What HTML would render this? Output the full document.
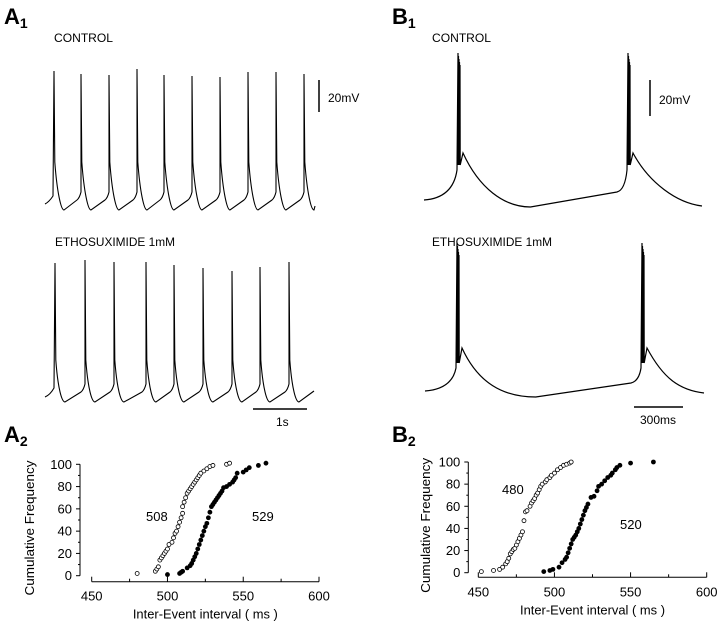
<!DOCTYPE html>
<html><head><meta charset="utf-8"><style>
html,body{margin:0;padding:0;background:#fff;}
svg{display:block;font-family:"Liberation Sans",sans-serif;}
</style></head><body>
<svg id="fig" width="720" height="624" viewBox="0 0 720 624">
<g font-weight="bold" font-size="22">
<text x="4" y="24">A<tspan font-size="14" dy="4">1</tspan></text>
<text x="392" y="24">B<tspan font-size="14" dy="4">1</tspan></text>
<text x="4" y="442">A<tspan font-size="14" dy="4">2</tspan></text>
<text x="392" y="442">B<tspan font-size="14" dy="4">2</tspan></text>
</g>
<g font-size="12">
<text x="54" y="42" textLength="59" lengthAdjust="spacingAndGlyphs">CONTROL</text>
<text x="432" y="42" textLength="59" lengthAdjust="spacingAndGlyphs">CONTROL</text>
<text x="55" y="246" textLength="120" lengthAdjust="spacingAndGlyphs">ETHOSUXIMIDE 1mM</text>
<text x="432" y="246" textLength="120" lengthAdjust="spacingAndGlyphs">ETHOSUXIMIDE 1mM</text>
</g>
<g stroke="#000" stroke-width="1.5">
<line x1="319" y1="80" x2="319" y2="112"/>
<line x1="650" y1="80" x2="650" y2="116"/>
<line x1="253" y1="409" x2="307" y2="409"/>
<line x1="634" y1="407" x2="683" y2="407"/>
</g>
<g font-size="12">
<text x="328" y="102">20mV</text>
<text x="659" y="104">20mV</text>
<text x="276" y="426">1s</text>
<text x="640" y="424">300ms</text>
</g>
<g id="traces"></g>
<g id="plots"></g>
</svg>
<script>
// ---- trace data (spike times in px, peak y) ----
const aCtrlSpikes=[54,81,109,137,164,192,220,248,276,304];
const aCtrlPeaks=[71,74,75,69,75,76,77,72,72,74];
const aEthoSpikes=[55,85,114,146,174,203,232,260,289];
const aEthoPeaks=[263,260,262,262,265,268,271,267,262];
const bCtrlBursts=[459,629];
const bEthoBursts=[458,643];
// ---- cumulative data ----
const a2OpenX=[480,492,493,494,495,496,497,498,499,500,501,503,504,505,506,507,508,509,510,510,511,512,513,514,515,516,517,518,519,520,521,522,524,526,528,530,539,541];
const a2OpenY=[2,4,6,8,14,16,18,20,22,24,28,30,34,38,40,44,48,52,56,62,66,70,74,76,78,80,82,84,86,88,90,92,94,96,98,99,100,101];
const a2FillX=[500,508,509,510,513,515,516,517,518,519,520,521,522,523,524,525,526,527,528,529,530,531,532,533,534,535,536,537,539,541,543,544,545,546,550,552,554,560,565];
const a2FillY=[1,2,3,4,7,9,11,14,17,20,24,28,32,36,40,44,47,52,57,62,64,66,68,70,72,74,76,79,80,82,84,86,88,92,93,95,97,99,101];
const b2OpenX=[452,460,464,466,468,469,470,471,472,473,474,475,476,477,478,479,480,481,482,484,485,486,487,488,489,490,491,492,494,495,497,498,500,502,504,506,508,510,511];
const b2OpenY=[1,2,3,5,8,10,13,17,19,21,22,25,28,31,34,37,47,55,56,60,63,65,67,70,72,75,78,80,82,84,86,88,90,93,95,97,98,99,100];
const b2FillX=[493,497,499,503,505,507,508,509,510,511,512,513,514,515,516,517,518,519,520,521,522,524,526,528,529,531,533,535,537,538,540,541,543,550,565];
const b2FillY=[1,2,3,5,9,12,14,18,22,26,30,32,34,37,40,44,48,52,56,59,62,68,69,74,78,80,83,86,88,90,93,95,97,99,100];
const xTicks=[450,500,550,600];
const yTicks=[0,20,40,60,80,100];

const NS="http://www.w3.org/2000/svg";
function mk(tag,attrs,parent){const e=document.createElementNS(NS,tag);for(const k in attrs)e.setAttribute(k,attrs[k]);parent.appendChild(e);return e;}
const traces=document.getElementById('traces');
const plots=document.getElementById('plots');

function spikeTrace(spikes,peaks,x0,x1,trough,pre,shoulder,startY,endY,name){
  let d=`M${x0},${startY}`;
  let prevEnd=x0;
  spikes.forEach((t,i)=>{
    if(i===0){d+=` Q${t-5},${startY-2} ${t-1},${pre}`;}
    else{d+=` L${t-4},${pre+4} Q${t-1.5},${pre+2} ${t},${pre-4}`;}
    d+=` L${t},${peaks[i]} L${t+0.8},${shoulder}`;
    const last=i===spikes.length-1;
    const te=Math.min(t+10,x1);
    if(last && t+10>x1){
      d+=` C${t+3},${shoulder+30} ${x1-3},${endY} ${x1},${endY}`;
      prevEnd=x1;
    } else {
      d+=` C${t+3},${shoulder+30} ${t+7},${trough} ${te},${trough}`;
      prevEnd=te;
    }
  });
  if(prevEnd<x1) d+=` L${x1},${endY}`;
  const p=mk('path',{d:d,fill:'none',stroke:'#000','stroke-width':1.1},traces);
  
  
}
spikeTrace(aCtrlSpikes,aCtrlPeaks,45,315,210,196,162,204,206,'a-control-trace');
spikeTrace(aEthoSpikes,aEthoPeaks,45,314,402,388,360,397,391,'a-etho-trace');

function burstTrace(bursts,peak,base,ahp,trough,startY,preY,endY,x0,x1,name){
  const [b1,b2]=bursts;
  const mid=b1+(b2-b1)*0.42;
  let d=`M${x0},${startY} Q${b1-6},${startY-2} ${b1-2},${base}`;
  for(let k=0;k<5;k++){d+=` L${b1-1+k*0.5},${peak+k*3} L${b1-0.8+k*0.5},${base-5}`;}
  d+=` L${b1+4},${ahp} C${b1+20},${ahp+35} ${b1+45},${trough} ${mid},${trough}`;
  d+=` L${b2-12},${preY} Q${b2-4},${preY-2} ${b2-2},${base}`;
  for(let k=0;k<5;k++){d+=` L${b2-1+k*0.5},${peak+k*3} L${b2-0.8+k*0.5},${base-5}`;}
  d+=` L${b2+4},${ahp} C${b2+20},${ahp+30} ${x1-25},${endY-3} ${x1},${endY}`;
  const p=mk('path',{d:d,fill:'none',stroke:'#000','stroke-width':1.2},traces);
  
  
}
burstTrace(bCtrlBursts,53,170,153,207,200,192,206,424,702,'b-control-trace');
burstTrace(bEthoBursts,243,368,348,397,391,383,393,425,704,'b-etho-trace');

function plot(cfg){
  const g=mk('g',{},plots);
  
  
  const sx=v=>cfg.x450+(v-450)*(cfg.x600-cfg.x450)/150;
  const sy=v=>cfg.y0+(v)*(cfg.y100-cfg.y0)/100;
  const ax=mk('line',{x1:cfg.yAxisX,y1:sy(100),x2:cfg.yAxisX,y2:sy(0),stroke:'#000','stroke-width':1},g);
  
  const bx=mk('line',{x1:sx(450),y1:cfg.xAxisY,x2:sx(600),y2:cfg.xAxisY,stroke:'#000','stroke-width':1},g);
  
  yTicks.forEach(v=>{
    const t=mk('line',{x1:cfg.yAxisX-4,y1:sy(v),x2:cfg.yAxisX,y2:sy(v),stroke:'#000'},g);
    
    if(v<100){const m=mk('line',{x1:cfg.yAxisX-2,y1:sy(v+10),x2:cfg.yAxisX,y2:sy(v+10),stroke:'#000'},g);
      }
    const l=mk('text',{x:cfg.yAxisX-8,y:sy(v)+4.5,'text-anchor':'end','font-size':13},g);
    l.textContent=v;
  });
  xTicks.forEach((v,i)=>{
    const t=mk('line',{x1:sx(v),y1:cfg.xAxisY-5,x2:sx(v),y2:cfg.xAxisY,stroke:'#000'},g);
    
    if(i<3){const m=mk('line',{x1:sx(v+25),y1:cfg.xAxisY-3,x2:sx(v+25),y2:cfg.xAxisY,stroke:'#000'},g);
      }
    const l=mk('text',{x:sx(v),y:cfg.xAxisY+19,'text-anchor':'middle','font-size':13},g);
    l.textContent=v;
  });
  const xt=mk('text',{x:(sx(450)+sx(600))/2,y:cfg.xAxisY+37,'text-anchor':'middle','font-size':13,textLength:145,lengthAdjust:'spacingAndGlyphs'},g);
  xt.textContent='Inter-Event interval ( ms )';
  const yt=mk('text',{x:0,y:0,'text-anchor':'middle','font-size':13,textLength:135,lengthAdjust:'spacingAndGlyphs',transform:`translate(${cfg.ytX},${(sy(0)+sy(100))/2+8}) rotate(-90)`},g);
  yt.textContent='Cumulative Frequency';
  cfg.openX.forEach((v,i)=>{
    const c=mk('circle',{cx:sx(v),cy:sy(cfg.openY[i]),r:2,fill:'#fff',stroke:'#000','stroke-width':0.8},g);
    
  });
  cfg.fillX.forEach((v,i)=>{
    const c=mk('circle',{cx:sx(v),cy:sy(cfg.fillY[i]),r:2.4,fill:'#000'},g);
    
  });
  cfg.notes.forEach(n=>{
    const l=mk('text',{x:n[0],y:n[1],'font-size':13},g);
    l.textContent=n[2];
  });
}
plot({name:'a2-plot',x450:91.7,x600:319,y0:575.7,y100:464.3,yAxisX:80,xAxisY:581.7,ytX:34,
  openX:a2OpenX,openY:a2OpenY,fillX:a2FillX,fillY:a2FillY,notes:[[146,521,'508'],[252,521,'529']]});
plot({name:'b2-plot',x450:478.3,x600:706.7,y0:572.7,y100:462,yAxisX:468.3,xAxisY:577.3,ytX:430,
  openX:b2OpenX,openY:b2OpenY,fillX:b2FillX,fillY:b2FillY,notes:[[502,494,'480'],[620,529,'520']]});
</script>
</body></html>
